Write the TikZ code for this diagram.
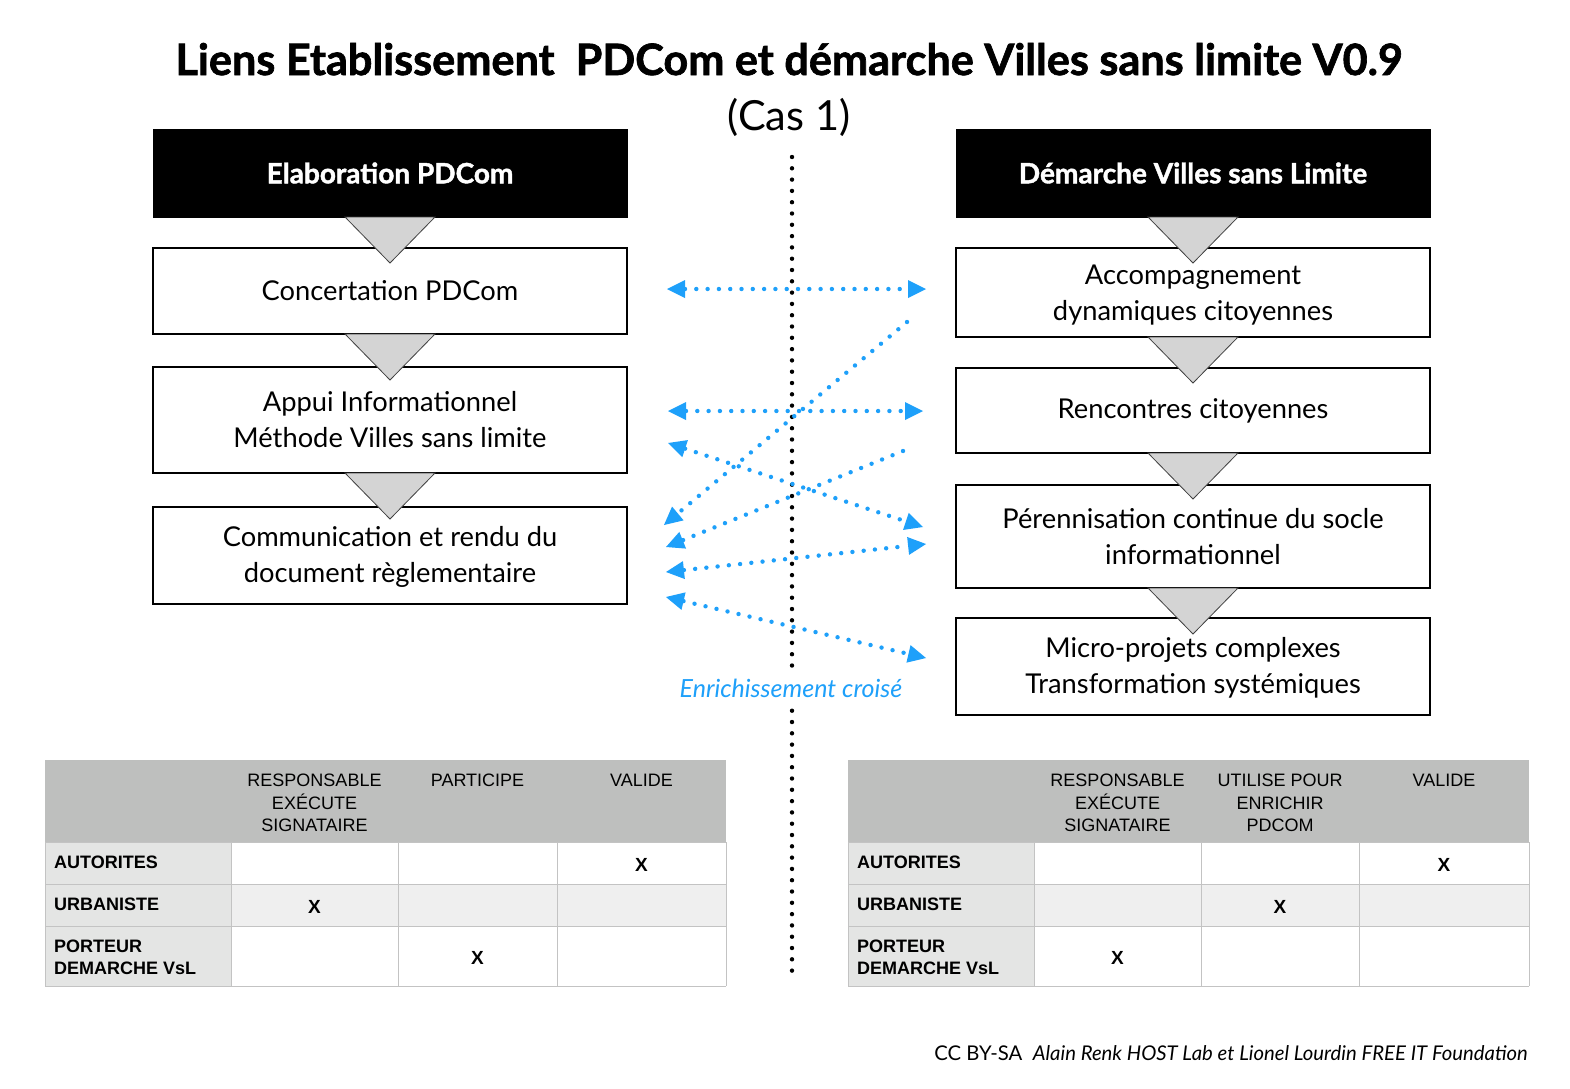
\documentclass[tikz,border=0pt]{standalone}
\usepackage{fontspec}
\setmainfont{Lato}[BoldFeatures={FakeBold=1.5}]
\newfontfamily\helv{Liberation Sans}
\usetikzlibrary{arrows.meta}
\definecolor{vslblue}{RGB}{30,160,250}
\definecolor{hdrgray}{RGB}{190,191,190}
\definecolor{lblgray}{RGB}{228,229,228}
\definecolor{rowgray}{RGB}{239,239,239}
\definecolor{cellline}{RGB}{195,195,195}
\definecolor{trigray}{RGB}{212,212,212}
\tikzset{
  hdrbox/.style={draw=black, fill=black, text=white, minimum width=474pt, minimum height=88pt, inner sep=0pt, font=\fontsize{28}{32}\selectfont\bfseries},
  stepbox/.style={draw=black, line width=1.2pt, fill=white, minimum width=474pt, align=center, inner sep=0pt, font=\fontsize{27.3}{36}\selectfont},
  flowtri/.pic={\filldraw[fill=trigray, draw=black!75, line width=0.8pt] (-45,0) -- (45,0) -- (0,46) -- cycle;},
  vsldots/.style={line width=4.4pt, line cap=round, dash pattern=on 0pt off 11.3pt},
  vsltip/.tip={Triangle[length=18pt,width=18pt,line width=0pt]},
  colhead/.style={anchor=north, align=center, inner sep=0pt, font=\helv\fontsize{18}{22.5}\selectfont},
  rowlabel/.style={anchor=west, align=left, inner sep=0pt, font=\helv\bfseries\fontsize{18}{22}\selectfont},
  xmark/.style={inner sep=0pt, font=\helv\bfseries\fontsize{19}{22}\selectfont},
  gridline/.style={draw=cellline, line width=1pt}
}
\begin{document}
\begin{tikzpicture}[x=1pt,y=-1pt]
\useasboundingbox[fill=white] (0,0) rectangle (1570,1088);

% title
\node[anchor=base, inner sep=0pt, font=\fontsize{43.2}{48}\selectfont\bfseries] (title) at (789,75) {Liens Etablissement\ \ PDCom et démarche Villes sans limite V0.9};
\node[anchor=base, inner sep=0pt, font=\fontsize{41.5}{48}\selectfont] (cas) at (789,130) {(Cas 1)};

% central dotted line
\coordinate (vtop) at (792,157);
\coordinate (vbot) at (792,975);
\draw[black, vsldots] (vtop) -- (vbot);

% left column
\node[hdrbox] (lh) at (390,173) {Elaboration PDCom};
\node[stepbox, minimum height=86pt] (l1) at (390,291) {Concertation PDCom};
\node[stepbox, minimum height=106pt] (l2) at (390,420) {Appui Informationnel\\Méthode Villes sans limite};
\node[stepbox, minimum height=97pt, text depth=2pt] (l3) at (390,555.5) {Communication et rendu du\\document règlementaire};
\pic at (390,217) {flowtri};
\pic at (390,334) {flowtri};
\pic at (390,473) {flowtri};

% right column
\node[hdrbox] (rh) at (1193,173) {Démarche Villes sans Limite};
\node[stepbox, minimum height=89pt, text depth=0pt] (r1) at (1193,292.5) {Accompagnement\\dynamiques citoyennes};
\node[stepbox, minimum height=85pt] (r2) at (1193,410.5) {Rencontres citoyennes};
\node[stepbox, minimum height=103pt] (r3) at (1193,536.5) {Pérennisation continue du socle\\informationnel};
\node[stepbox, minimum height=97pt, text depth=2pt] (r4) at (1193,666.5) {Micro-projets complexes\\Transformation systémiques};
\pic at (1193,217) {flowtri};
\pic at (1193,337) {flowtri};
\pic at (1193,453) {flowtri};
\pic at (1193,588) {flowtri};

% cross enrichment arrows
\coordinate (a1l) at (667,289);  \coordinate (a1r) at (926,289);
\coordinate (a2r) at (907,322);  \coordinate (a2l) at (664,525);
\coordinate (a3l) at (668,411);  \coordinate (a3r) at (923,411);
\coordinate (a4l) at (668,443);  \coordinate (a4r) at (923,527);
\coordinate (a5r) at (903,451);  \coordinate (a5l) at (666,547);
\coordinate (a6l) at (666,572);  \coordinate (a6r) at (926,544);
\coordinate (a7l) at (666,597);  \coordinate (a7r) at (926,658);
\begin{scope}[vslblue, vsldots]
\draw[vsltip-vsltip] (a1l) -- (a1r);
\draw[-vsltip] (a2r) -- (a2l);
\draw[vsltip-vsltip] (a3l) -- (a3r);
\draw[vsltip-vsltip] (a4l) -- (a4r);
\draw[-vsltip] (a5r) -- (a5l);
\draw[vsltip-vsltip] (a6l) -- (a6r);
\draw[vsltip-vsltip] (a7l) -- (a7r);
\end{scope}
\node[fill=white, inner sep=5pt, text=vslblue, font=\fontsize{25}{28}\selectfont\itshape] (enr) at (791,688) {Enrichissement croisé};

% left table
\fill[hdrgray] (45,760) rectangle (726,842);
\fill[lblgray] (45,842) rectangle (231,986);
\fill[rowgray] (231,884) rectangle (726,926);
\draw[gridline] (45,842) -- (726,842) (45,884) -- (726,884) (45,926) -- (726,926) (45,986) -- (726,986);
\draw[gridline] (231,842) -- (231,986) (398,842) -- (398,986) (557,842) -- (557,986) (726,842) -- (726,986) (45,842) -- (45,986);
\node[colhead] (lt1) at (314.5,774) {RESPONSABLE\\EXÉCUTE\\SIGNATAIRE};
\node[colhead] (lt2) at (477.5,774) {PARTICIPE};
\node[colhead] (lt3) at (641.5,774) {VALIDE};
\node[rowlabel] (lr1) at (54,862.5) {AUTORITES};
\node[rowlabel] (lr2) at (54,904.5) {URBANISTE};
\node[rowlabel] (lr3) at (54,957.5) {PORTEUR\\DEMARCHE VsL};
\node[xmark] (lx1) at (641.5,865) {X};
\node[xmark] (lx2) at (314.5,907) {X};
\node[xmark] (lx3) at (477.5,958) {X};

% right table
\fill[hdrgray] (848,760) rectangle (1529,842);
\fill[lblgray] (848,842) rectangle (1034,986);
\fill[rowgray] (1034,884) rectangle (1529,926);
\draw[gridline] (848,842) -- (1529,842) (848,884) -- (1529,884) (848,926) -- (1529,926) (848,986) -- (1529,986);
\draw[gridline] (1034,842) -- (1034,986) (1201,842) -- (1201,986) (1359,842) -- (1359,986) (1529,842) -- (1529,986) (848,842) -- (848,986);
\node[colhead] (rt1) at (1117.5,774) {RESPONSABLE\\EXÉCUTE\\SIGNATAIRE};
\node[colhead] (rt2) at (1280,774) {UTILISE POUR\\ENRICHIR\\PDCOM};
\node[colhead] (rt3) at (1444,774) {VALIDE};
\node[rowlabel] (rr1) at (857,862.5) {AUTORITES};
\node[rowlabel] (rr2) at (857,904.5) {URBANISTE};
\node[rowlabel] (rr3) at (857,957.5) {PORTEUR\\DEMARCHE VsL};
\node[xmark] (rx1) at (1444,865) {X};
\node[xmark] (rx2) at (1280,907) {X};
\node[xmark] (rx3) at (1117.5,958) {X};

% footer
\node[anchor=base east, inner sep=0pt, font=\fontsize{20.3}{24}\selectfont] (foot) at (1528,1060) {CC BY-SA\ \ \textit{Alain Renk HOST Lab et Lionel Lourdin FREE IT Foundation}};
\end{tikzpicture}
\end{document}
